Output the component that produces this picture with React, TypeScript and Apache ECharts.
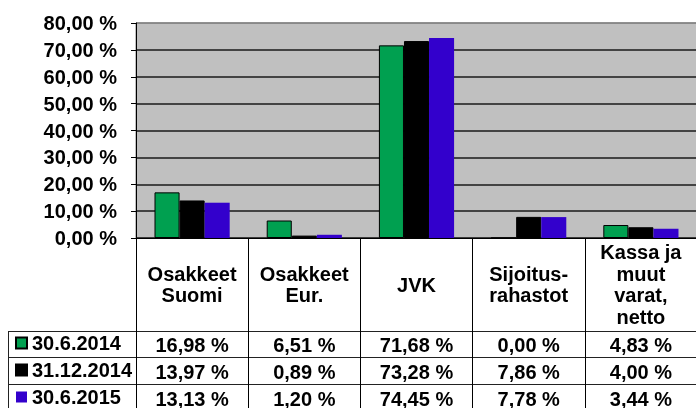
import React, { useEffect, useRef } from "react";
import * as echarts from "echarts";

const categories = ["Osakkeet\nSuomi", "Osakkeet\nEur.", "JVK", "Sijoitus-\nrahastot", "Kassa ja\nmuut\nvarat,\nnetto"];
const seriesNames = ["30.6.2014", "31.12.2014", "30.6.2015"];
const values2014a = [16.98, 6.51, 71.68, 0.0, 4.83];
const values2014b = [13.97, 0.89, 73.28, 7.86, 4.0];
const values2015a = [13.13, 1.2, 74.45, 7.78, 3.44];
const seriesValues = [values2014a, values2014b, values2015a];
const seriesColors = ["#00A050", "#000000", "#3300CC"];
const yMin = 0;
const yMax = 80;
const yInterval = 10;

const FONT = 'Arial, "Liberation Sans", sans-serif';
const FS = 20;
const fmt = (v: number) => v.toFixed(2).replace(".", ",") + " %";

export default function App() {
  const ref = useRef<HTMLDivElement>(null);
  useEffect(() => {
    if (!ref.current) return;
    const chart = echarts.init(ref.current, null, { renderer: "svg" });
    const rowMargins = [106.5, 133.5, 160.5];
    const tableAxes = seriesValues.map((vals, i) => ({
      type: "category",
      gridIndex: 0,
      position: "bottom",
      data: categories,
      axisLine: { show: false },
      axisTick: { show: false },
      splitLine: { show: false },
      axisLabel: {
        interval: 0,
        margin: rowMargins[i],
        verticalAlign: "middle",
        fontFamily: FONT,
        fontSize: FS,
        fontWeight: "bold",
        color: "#000",
        formatter: (_v: string, idx: number) => fmt(vals[idx]),
      },
    }));
    const splitColors: string[] = [];
    for (let t = yMin; t <= yMax; t += yInterval) splitColors.push(t === yMax ? "#808080" : "#1a1a1a");
    chart.setOption({
      animation: false,
      grid: {
        left: 136,
        top: 23,
        width: 561,
        height: 215,
        show: true,
        backgroundColor: "#C0C0C0",
        borderColor: "#808080",
        borderWidth: 1,
        containLabel: false,
        outerBoundsMode: "none",
      },
      legend: {
        data: seriesNames,
        orient: "vertical",
        left: 15,
        top: 333,
        padding: 0,
        itemGap: 7,
        itemWidth: 11,
        itemHeight: 11,
        icon: "rect",
        selectedMode: false,
        textStyle: { fontFamily: FONT, fontSize: FS, fontWeight: "bold", color: "#000", lineHeight: 20 },
      },
      xAxis: [
        {
          type: "category",
          gridIndex: 0,
          position: "bottom",
          data: categories,
          axisLine: { show: true, lineStyle: { color: "#000", width: 1 } },
          axisTick: { show: true, length: 175, lineStyle: { color: "#000", width: 1 } },
          splitLine: { show: false },
          axisLabel: {
            interval: 0,
            margin: 46.5,
            verticalAlign: "middle",
            align: "center",
            fontFamily: FONT,
            fontSize: FS,
            fontWeight: "bold",
            lineHeight: 21.7,
            color: "#000",
          },
        },
        ...tableAxes,
      ],
      yAxis: {
        type: "value",
        min: yMin,
        max: yMax,
        interval: yInterval,
        axisLine: { show: true, lineStyle: { color: "#000", width: 1 } },
        axisTick: { show: true, length: 5, lineStyle: { color: "#000" } },
        splitLine: { show: true, lineStyle: { color: splitColors, width: 1.5 } },
        axisLabel: {
          margin: 19,
          fontFamily: FONT,
          fontSize: FS,
          fontWeight: "bold",
          color: "#000",
          formatter: (v: number) => fmt(v),
        },
      },
      series: seriesNames.map((name, i) => ({
        name,
        type: "bar",
        xAxisIndex: 0,
        data: seriesValues[i],
        barGap: "0%",
        barCategoryGap: "33%",
        itemStyle: {
          color: seriesColors[i],
          borderColor: i === 2 ? "#3300CC" : "#000",
          borderWidth: i === 2 ? 0 : 1,
        },
      })),
      graphic: [
        ...[331.5, 357.5, 384.5].map((y) => ({
          type: "line",
          shape: { x1: 8, y1: y, x2: 700, y2: y },
          style: { stroke: "#222", lineWidth: 1 },
          silent: true,
        })),
        {
          type: "line",
          shape: { x1: 8.5, y1: 331, x2: 8.5, y2: 420 },
          style: { stroke: "#222", lineWidth: 1 },
          silent: true,
        },
      ],
    });
    return () => chart.dispose();
  }, []);
  return <div ref={ref} style={{ position: "fixed", left: 0, top: 0, width: 696, height: 408 }} />;
}
